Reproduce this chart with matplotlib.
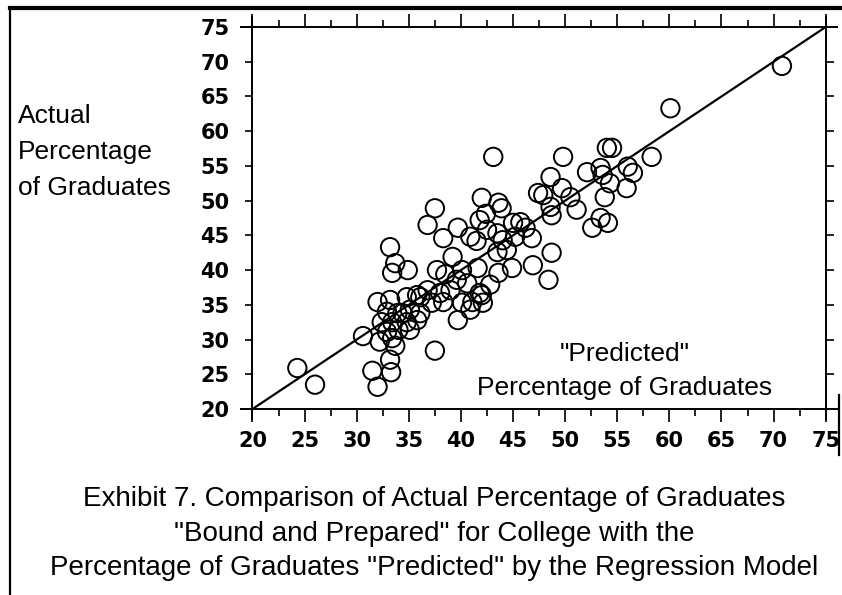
import numpy as np
import matplotlib
matplotlib.use("Agg")
import matplotlib.pyplot as plt
from matplotlib.ticker import MultipleLocator
from matplotlib.lines import Line2D

# ---------------- data ----------------
predicted = [
    24.3, 26.0, 30.6, 31.5, 33.2, 33.3, 32.0,
    33.2, 33.7, 34.9, 33.4,
    32.0, 33.2, 34.8, 35.8, 32.9, 33.9, 35.1, 32.4, 33.4, 34.8, 35.8,
    32.9, 34.0, 35.1, 32.2, 33.4, 33.7,
    42.0, 43.6, 43.9, 37.5, 36.8, 38.3, 39.7, 41.8, 42.4, 40.9, 41.5,
    42.5, 43.5, 44.0, 45.0, 45.2, 44.4, 43.5,
    39.2, 37.7, 38.5, 40.1, 41.6, 43.6, 44.9, 42.8, 41.8, 40.6, 39.6,
    39.0, 38.0, 36.8, 36.1, 37.2, 38.3, 40.1, 41.1, 42.1, 40.9, 42.0,
    36.1, 34.4, 39.7, 37.5,
    60.1, 54.0, 54.5, 49.8, 58.3, 52.1, 53.4, 53.6, 56.0, 56.5, 54.3,
    48.6, 55.9, 53.8, 47.4, 47.9, 49.7, 50.5, 48.6, 51.1, 48.7, 53.4,
    52.6, 54.1, 45.7, 46.2, 46.8, 48.7, 46.9, 48.4, 43.1, 70.8,
]
actual = [
    25.9, 23.5, 30.5, 25.5, 27.1, 25.3, 23.2,
    43.3, 41.0, 40.0, 39.6,
    35.4, 35.7, 36.1, 36.4, 34.0, 33.8, 34.3, 32.5, 32.5, 32.5, 32.8,
    31.1, 31.4, 31.4, 29.7, 30.2, 29.1,
    50.4, 49.7, 48.9, 48.9, 46.5, 44.6, 46.1, 47.2, 48.1, 44.8, 44.2,
    45.8, 45.3, 44.3, 46.8, 44.8, 42.9, 42.6,
    41.9, 40.0, 39.4, 40.0, 40.3, 39.6, 40.3, 37.9, 36.7, 38.1, 38.6,
    37.1, 36.7, 37.1, 36.1, 35.3, 35.4, 35.3, 35.4, 35.3, 34.3, 36.4,
    33.8, 33.8, 32.8, 28.4,
    63.3, 57.6, 57.6, 56.3, 56.3, 54.1, 54.7, 53.7, 54.9, 54.0, 52.5,
    53.4, 51.8, 50.5, 51.1, 50.8, 51.8, 50.5, 49.1, 48.7, 47.9, 47.5,
    46.1, 46.8, 46.9, 46.1, 44.6, 42.5, 40.7, 38.6, 56.3, 69.4,
]
line_x = [20, 75]
line_y = [20, 75]
x_ticks = [20, 25, 30, 35, 40, 45, 50, 55, 60, 65, 70, 75]
x_tick_labels = ["20", "25", "30", "35", "40", "45", "50", "55", "60", "65", "70", "75"]
y_ticks = [20, 25, 30, 35, 40, 45, 50, 55, 60, 65, 70, 75]
y_tick_labels = ["20", "25", "30", "35", "40", "45", "50", "55", "60", "65", "70", "75"]

y_title = "Actual\nPercentage\nof Graduates"
x_title = "\"Predicted\"\nPercentage of Graduates"
caption = [
    "Exhibit 7. Comparison of Actual Percentage of Graduates",
    "\"Bound and Prepared\" for College with the",
    "Percentage of Graduates \"Predicted\" by the Regression Model",
]

# ---------------- figure ----------------
W, H = 842, 595
fig = plt.figure(figsize=(W / 100, H / 100), dpi=100)
fig.patch.set_facecolor("white")

ax_l, ax_r, ax_t, ax_b = 252.5, 825.7, 27.0, 409.0
ax = fig.add_axes([ax_l / W, 1 - ax_b / H, (ax_r - ax_l) / W, (ax_b - ax_t) / H])
ax.set_xlim(20, 75)
ax.set_ylim(20, 75)
ax.set_facecolor("white")

ax.plot(line_x, line_y, color="black", lw=1.6, zorder=2)
ax.scatter(predicted, actual, s=175, facecolors="none", edgecolors="black",
           linewidths=1.4, zorder=3, clip_on=False)

# cross-hair style frame
for sp in ax.spines.values():
    sp.set_visible(False)
ux = 55 / (ax_r - ax_l)   # data units per pixel in x
uy = 55 / (ax_b - ax_t)
ex, ey = 12 * ux, 11 * uy
kw = dict(color="black", lw=1.4, clip_on=False, zorder=4, solid_capstyle="butt")
ax.plot([20 - ex, 75 + ex], [75, 75], **kw)
ax.plot([20 - ex, 75 + ex], [20, 20], **kw)
ax.plot([20, 20], [20 - ey, 75 + ey], **kw)
ax.plot([75, 75], [20 - ey, 75 + ey], **kw)

ax.set_xticks(x_ticks)
ax.set_xticklabels(x_tick_labels)
ax.xaxis.set_minor_locator(MultipleLocator(2.5))
ax.set_yticks(y_ticks)
ax.set_yticklabels(y_tick_labels)

ax.tick_params(axis="x", which="major", direction="out", length=9.5, width=1.2,
               top=True, bottom=True, labelsize=15, pad=6)
ax.tick_params(axis="x", which="minor", direction="out", length=5, width=1.2,
               top=True, bottom=True)
ax.tick_params(axis="y", which="major", direction="out", length=5.5, width=1.2,
               left=True, right=True, labelsize=15, pad=11)
for lab in ax.get_xticklabels() + ax.get_yticklabels():
    lab.set_fontfamily("DejaVu Sans")
    lab.set_fontweight("bold")

# axis titles
fig.text(18 / W, 1 - 104 / H, y_title, ha="left", va="top", fontsize=19,
         family="Liberation Sans", linespacing=1.62)
fig.text(625 / W, 1 - 371 / H, x_title, ha="center", va="center",
         multialignment="center", fontsize=19, family="Liberation Sans",
         linespacing=1.5)

# caption
cap_y = [499, 534, 568]
for txt, yy in zip(caption, cap_y):
    fig.text(434 / W, 1 - yy / H, txt, ha="center", va="center", fontsize=20,
             family="Liberation Sans", color="black")

# outer border of scanned page
fig.add_artist(Line2D([10 / W, 1.0], [1 - 8 / H, 1 - 8 / H], color="black", lw=3,
                      transform=fig.transFigure))
fig.add_artist(Line2D([10 / W, 10 / W], [0, 1 - 8 / H], color="black", lw=1.6,
                      transform=fig.transFigure))
fig.add_artist(Line2D([839 / W, 839 / W], [1 - 455 / H, 1 - 395 / H], color="black",
                      lw=1.6, transform=fig.transFigure))

fig.savefig("out.png", dpi=100, facecolor="white")
